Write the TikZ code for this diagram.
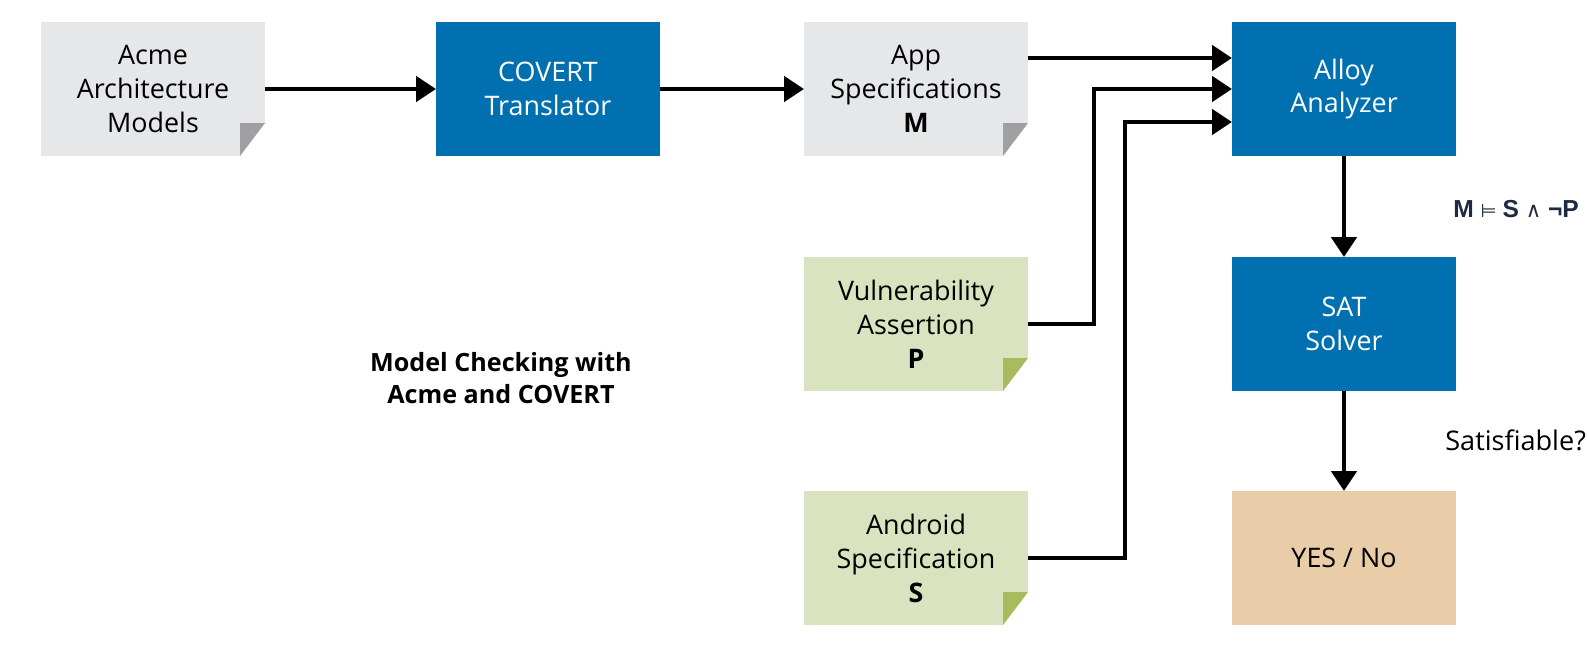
\documentclass[tikz,border=0pt]{standalone}
\usepackage{fontspec}
\setmainfont{Open Sans}
\newfontfamily\formulafont{Liberation Sans}
\newfontfamily\symfont{DejaVu Sans}
\usetikzlibrary{positioning,arrows.meta}

\definecolor{boxblue}{HTML}{0070B0}
\definecolor{docgray}{HTML}{E6E7E8}
\definecolor{foldgray}{HTML}{A0A0A2}
\definecolor{docgreen}{HTML}{DAE3BF}
\definecolor{foldgreen}{HTML}{A8BC5E}
\definecolor{resulttan}{HTML}{E8CDA8}
\definecolor{formulanavy}{HTML}{1C2B3F}

\begin{document}
\begin{tikzpicture}
	[
		box/.style = {shape=rectangle, minimum width=4.48cm, minimum height=2.68cm, inner sep=0pt, outer sep=0pt, align=center, font=\fontsize{15.3}{19.3}\selectfont},
		tool/.style = {box, fill=boxblue, text=white},
		doc/.style = {box, fill=docgray},
		spec/.style = {box, fill=docgreen},
		result/.style = {box, fill=resulttan},
		flow/.style = {line width=2.8pt, -{Triangle[length=0.4cm, width=0.5cm]}},
		node distance = 2.02cm
	]
	
	\useasboundingbox (0,0) rectangle (31.76,-13.24);
	
	\newcommand{\fold}[2]{
		\fill[white] (#1.south east) -- ++(-0.5,0) -- ++(0.5,0.66) -- cycle;
		\fill[#2] (#1.south east) ++(-0.5,0) -- ++(0,0.66) -- ++(0.5,0) -- cycle;
	}
	
	% top row
	\node [doc] (acme) at (3.06,-1.78) {Acme\\Architecture\\Models};
	\node [tool, right=3.42cm of acme] (covert) {COVERT\\Translator};
	\node [doc, right=2.88cm of covert] (app) {App\\Specifications\\\textbf{M}};
	\node [tool, right=4.08cm of app] (alloy) {Alloy\\Analyzer};
	
	% right column
	\node [tool, below=of alloy] (sat) {SAT\\Solver};
	\node [result, below=2.0cm of sat] (yesno) {YES / No};
	
	% assertions
	\node [spec, below=of app] (vuln) {Vulnerability\\Assertion\\\textbf{P}};
	\node [spec, below=2.0cm of vuln] (android) {Android\\Specification\\\textbf{S}};
	
	\fold{acme}{foldgray}
	\fold{app}{foldgray}
	\fold{vuln}{foldgreen}
	\fold{android}{foldgreen}
	
	\node [font=\fontsize{14.3}{18.5}\selectfont\bfseries, align=center] (title) at (10.02,-7.56) {Model Checking with\\Acme and COVERT};
	\node [text=formulanavy, anchor=west, inner sep=0pt] (formula) at (29.06,-4.18)
		{\fontsize{14}{18}\selectfont\formulafont\bfseries M \fontsize{10.5}{18}\selectfont\symfont\mdseries ⊨ \fontsize{14}{18}\selectfont\formulafont\bfseries S \fontsize{12}{18}\selectfont\symfont\mdseries ∧ \fontsize{14}{18}\selectfont\formulafont\bfseries ¬P};
	\node [font=\fontsize{15.4}{19.3}\selectfont, anchor=west, inner sep=0pt] (question) at (28.9,-8.8) {Satisfiable?};
	
	\draw [flow] (acme) -- (covert);
	\draw [flow] (covert) -- (app);
	\draw [flow] ([yshift=0.62cm]app.east) -- ([yshift=0.62cm]alloy.west);
	\draw [flow] (vuln.east) -- ++(1.32,0) |- (alloy.west);
	\draw [flow] (android.east) -- ++(1.94,0) |- ([yshift=-0.66cm]alloy.west);
	\draw [flow] (alloy) -- (sat);
	\draw [flow] (sat) -- (yesno);
\end{tikzpicture}
\end{document}
